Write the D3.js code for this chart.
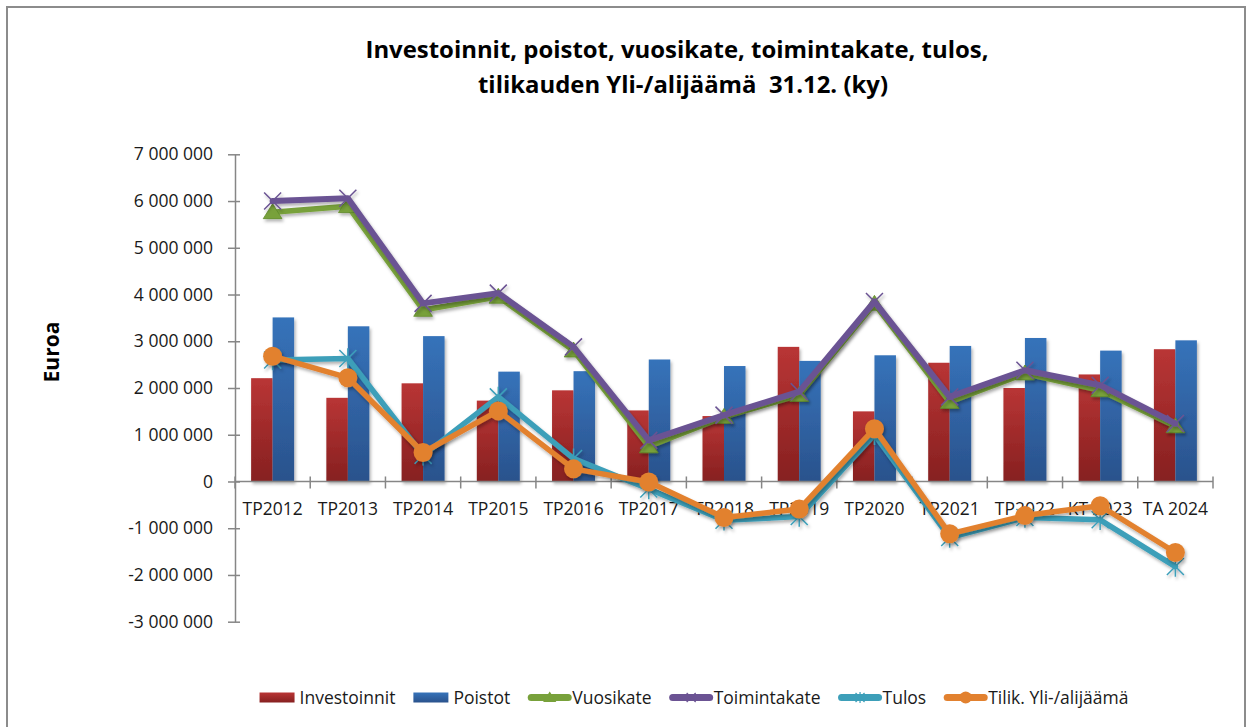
<!DOCTYPE html>
<html>
<head>
<meta charset="utf-8">
<script src="https://cdn.jsdelivr.net/npm/d3@7"></script>
<style>
  body { margin: 0; background: #fff; }
  svg { display: block; font-family: "Open Sans", sans-serif; }
</style>
</head>
<body>
<div id="chart"></div>
<script>
// values (euros)
var categories = ["TP2012", "TP2013", "TP2014", "TP2015", "TP2016", "TP2017", "TP2018",
                  "TP2019", "TP2020", "TP2021", "TP2022", "KT 2023", "TA 2024"];
var investoinnit = [2210000, 1790000, 2100000, 1730000, 1950000, 1520000, 1400000,
                    2880000, 1500000, 2540000, 2000000, 2290000, 2830000];
var poistot = [3510000, 3320000, 3110000, 2350000, 2360000, 2610000, 2470000,
               2580000, 2700000, 2900000, 3070000, 2800000, 3020000];
var vuosikate = [5760000, 5890000, 3670000, 3950000, 2800000, 750000, 1380000,
                 1850000, 3800000, 1700000, 2310000, 1950000, 1180000];
var toimintakate = [6000000, 6060000, 3810000, 4030000, 2880000, 880000, 1420000,
                    1920000, 3850000, 1810000, 2380000, 2060000, 1240000];
var tulos = [2600000, 2630000, 560000, 1810000, 490000, -160000, -830000,
             -750000, 1000000, -1200000, -770000, -820000, -1820000];
var tilik = [2680000, 2220000, 620000, 1510000, 270000, -10000, -770000,
             -590000, 1130000, -1120000, -730000, -520000, -1520000];
var yTicks = [-3000000, -2000000, -1000000, 0, 1000000, 2000000, 3000000,
              4000000, 5000000, 6000000, 7000000];

var width = 1248, height = 727;
var svg = d3.select("#chart").append("svg").attr("width", width).attr("height", height);
var defs = svg.append("defs");

function grad(id, top, bottom) {
  var g = defs.append("linearGradient").attr("id", id)
    .attr("x1", 0).attr("y1", 0).attr("x2", 0).attr("y2", 1);
  g.append("stop").attr("offset", "0%").attr("stop-color", top);
  g.append("stop").attr("offset", "100%").attr("stop-color", bottom);
}
grad("gRed", "#b93535", "#862020");
grad("gBlue", "#3673ba", "#2a528c");

var shadow = defs.append("filter").attr("id", "shadow")
  .attr("x", "-20%").attr("y", "-20%").attr("width", "140%").attr("height", "140%");
shadow.append("feDropShadow").attr("dx", 1.5).attr("dy", 2.5)
  .attr("stdDeviation", 1.6).attr("flood-color", "#000").attr("flood-opacity", 0.3);

// outer frame
svg.append("rect").attr("x", 7).attr("y", 7).attr("width", 1238).attr("height", 740)
  .attr("fill", "none").attr("stroke", "#8c8c8c").attr("stroke-width", 2);

// title
var title = svg.append("g").attr("font-weight", "bold").attr("fill", "#000")
  .attr("text-anchor", "middle").attr("font-size", 23.5);
title.append("text").attr("x", 677).attr("y", 58)
  .attr("textLength", 623).attr("lengthAdjust", "spacingAndGlyphs")
  .text("Investoinnit, poistot, vuosikate, toimintakate, tulos,");
title.append("text").attr("x", 683).attr("y", 93).style("white-space", "pre")
  .attr("textLength", 410).attr("lengthAdjust", "spacingAndGlyphs")
  .text("tilikauden Yli-/alijäämä  31.12. (ky)");

// scales
var x = d3.scaleBand().domain(categories).range([235, 1213]);
var x1 = d3.scaleBand().domain(["inv", "poi"]).range([0, x.bandwidth()])
  .paddingInner(0).paddingOuter(0.75);
var y = d3.scaleLinear().domain([-3000000, 7000000]).range([621.7, 154.3]);
var cx = function(i) { return x(categories[i]) + x.bandwidth() / 2; };

var fmt = function(v) {
  return (v < 0 ? "-" : "") + d3.format(",")(Math.abs(v)).replace(/,/g, " ");
};

// y axis
var yAxis = svg.append("g").attr("transform", "translate(235,0)")
  .call(d3.axisLeft(y).tickValues(yTicks).tickFormat(fmt).tickSizeInner(7).tickSizeOuter(0).tickPadding(15));
yAxis.select(".domain").attr("stroke", "#868686").attr("stroke-width", 1.5);
yAxis.selectAll(".tick line").attr("x1", 5).attr("stroke", "#868686").attr("stroke-width", 1.5);
yAxis.selectAll(".tick text").attr("font-size", 17.5).attr("fill", "#1a1a1a")
  .attr("font-family", "Open Sans");

svg.append("text").attr("transform", "translate(59,352) rotate(-90)")
  .attr("text-anchor", "middle").attr("font-weight", "bold").attr("font-size", 21)
  .text("Euroa");

// bars
var barG = svg.append("g").attr("filter", "url(#shadow)");
barG.selectAll(".inv").data(investoinnit).enter().append("rect")
  .attr("x", function(d, i) { return x(categories[i]) + x1("inv"); })
  .attr("y", function(d) { return y(Math.max(0, d)); })
  .attr("width", x1.bandwidth())
  .attr("height", function(d) { return Math.abs(y(d) - y(0)); })
  .attr("fill", "url(#gRed)");
barG.selectAll(".poi").data(poistot).enter().append("rect")
  .attr("x", function(d, i) { return x(categories[i]) + x1("poi"); })
  .attr("y", function(d) { return y(Math.max(0, d)); })
  .attr("width", x1.bandwidth())
  .attr("height", function(d) { return Math.abs(y(d) - y(0)); })
  .attr("fill", "url(#gBlue)");

// x axis along zero
var xAxis = svg.append("g").attr("transform", "translate(0," + y(0) + ")");
xAxis.append("line").attr("x1", 235).attr("x2", 1213)
  .attr("stroke", "#868686").attr("stroke-width", 1.5);
xAxis.selectAll(".xt").data(d3.range(categories.length + 1)).enter().append("line")
  .attr("x1", function(i) { return 235 + i * x.step(); })
  .attr("x2", function(i) { return 235 + i * x.step(); })
  .attr("y1", -5).attr("y2", 7)
  .attr("stroke", "#868686").attr("stroke-width", 1.5);
var xLabels = svg.append("g").attr("transform", "translate(0," + y(0) + ")")
  .call(d3.axisBottom(x).tickSize(0).tickPadding(21));
xLabels.select(".domain").remove();
xLabels.selectAll(".tick text").attr("font-size", 17.5).attr("fill", "#1a1a1a")
  .attr("font-family", "Open Sans");

// markers
function markerPath(type, r) {
  if (type === "x") return "M" + -r + "," + -r + "L" + r + "," + r + "M" + -r + "," + r + "L" + r + "," + -r;
  if (type === "star") return "M" + -r + "," + -r + "L" + r + "," + r + "M" + -r + "," + r + "L" + r + "," + -r +
    "M0," + (-r * 1.2) + "L0," + (r * 1.2);
  if (type === "tri") return "M0," + (-r) + "L" + (r * 1.1) + "," + (r * 0.75) + "L" + (-r * 1.1) + "," + (r * 0.75) + "Z";
  return "";
}

var series = [
  { name: "Vuosikate", values: vuosikate, color: "#78a13b", marker: "tri" },
  { name: "Toimintakate", values: toimintakate, color: "#6b5393", marker: "x" },
  { name: "Tulos", values: tulos, color: "#3d9fb9", marker: "star" },
  { name: "Tilik. Yli-/alijäämä", values: tilik, color: "#e2812f", marker: "circle" }
];

var line = d3.line().x(function(d, i) { return cx(i); }).y(function(d) { return y(d); });

series.forEach(function(s) {
  var g = svg.append("g").attr("filter", "url(#shadow)");
  g.append("path").datum(s.values).attr("d", line)
    .attr("fill", "none").attr("stroke", s.color).attr("stroke-width", s.marker === "x" ? 6 : 5.5)
    .attr("stroke-linejoin", "round").attr("stroke-linecap", "round");
  var m = g.selectAll(".m").data(s.values).enter();
  if (s.marker === "circle") {
    m.append("circle").attr("cx", function(d, i) { return cx(i); }).attr("cy", function(d) { return y(d); })
      .attr("r", 9.5).attr("fill", s.color);
  } else if (s.marker === "tri") {
    m.append("path").attr("transform", function(d, i) { return "translate(" + cx(i) + "," + y(d) + ")"; })
      .attr("d", markerPath("tri", 8.5)).attr("fill", s.color).attr("stroke", "#5f8a2a").attr("stroke-width", 0.8);
  } else {
    m.append("path").attr("transform", function(d, i) { return "translate(" + cx(i) + "," + y(d) + ")"; })
      .attr("d", markerPath(s.marker, 8.5)).attr("fill", "none").attr("stroke", s.color).attr("stroke-width", 1.5);
  }
});

// legend
var legendItems = [
  { name: "Investoinnit", type: "bar", fill: "url(#gRed)" },
  { name: "Poistot", type: "bar", fill: "url(#gBlue)" }
].concat(series.map(function(s) { return { name: s.name, type: "line", color: s.color, marker: s.marker }; }));

var legend = svg.append("g");
var lx = 0, ly = 697.5;
legendItems.forEach(function(it) {
  var g = legend.append("g").attr("transform", "translate(" + lx + ",0)");
  var sw;
  if (it.type === "bar") {
    g.append("rect").attr("x", 0).attr("y", ly - 5).attr("width", 35).attr("height", 10).attr("fill", it.fill);
    sw = 40;
  } else {
    g.append("line").attr("x1", 3).attr("x2", 40).attr("y1", ly).attr("y2", ly)
      .attr("stroke", it.color).attr("stroke-width", 7).attr("stroke-linecap", "round");
    if (it.marker === "circle") {
      g.append("circle").attr("cx", 21.5).attr("cy", ly).attr("r", 6).attr("fill", it.color);
    } else if (it.marker === "tri") {
      g.append("path").attr("transform", "translate(21.5," + ly + ")").attr("d", markerPath("tri", 6)).attr("fill", it.color);
    } else {
      g.append("path").attr("transform", "translate(21.5," + ly + ")").attr("d", markerPath(it.marker, 4.5))
        .attr("fill", "none").attr("stroke", it.color).attr("stroke-width", 1.2);
    }
    sw = 44;
  }
  var t = g.append("text").attr("x", sw).attr("y", ly + 6).attr("font-size", 17.5).attr("fill", "#1a1a1a").text(it.name);
  lx += sw + t.node().getComputedTextLength() + 18;
});
var lw = lx - 18;
legend.attr("transform", "translate(" + (694 - lw / 2) + ",0)");
</script>
</body>
</html>
